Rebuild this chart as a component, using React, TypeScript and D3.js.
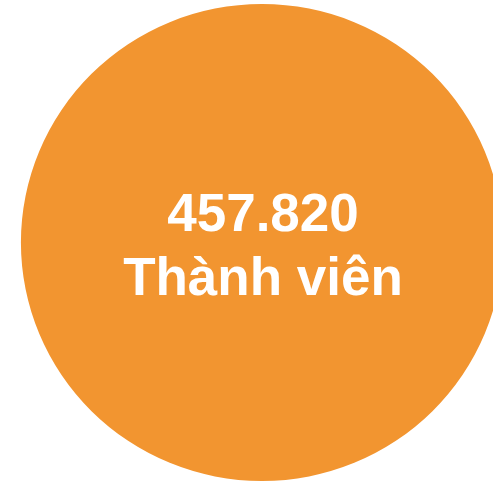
import * as d3 from 'd3';

// single-slice bubble: total members
const labels = ['Thành viên'];
const values = [457820];

const width = 493;
const height = 482;
const cx = 262;
const cy = 242.5;
const radius = 238.5;
const stretchX = 241 / 238.5; // shape is a touch wider than tall

const vn = d3.formatLocale({ decimal: ',', thousands: '.', grouping: [3], currency: ['', '₫'] });
const fmt = vn.format(',d');

export default function App() {
  const pie = d3.pie<number>().sort(null)(values);
  const arc = d3.arc<d3.PieArcDatum<number>>().innerRadius(0).outerRadius(radius);

  return (
    <svg
      width={width}
      height={height}
      style={{ position: 'absolute', left: 0, top: 0 }}
      fontFamily="'Liberation Sans', Arial, sans-serif"
    >
      <g transform={`translate(${cx}, ${cy}) scale(${stretchX}, 1)`}>
        {pie.map((d, i) => (
          <path key={i} d={arc(d) ?? ''} fill="#f29530" />
        ))}
      </g>
      <g transform={`translate(263, 0)`} fill="#fff" fontWeight="bold" fontSize={53} textAnchor="middle">
        <text y={231}>{fmt(values[0])}</text>
        <text y={295}>{labels[0]}</text>
      </g>
    </svg>
  );
}
